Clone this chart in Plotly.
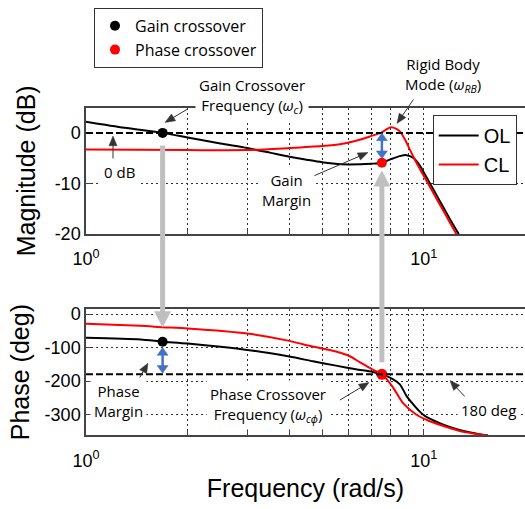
import numpy as np
import plotly.graph_objects as go

# ---- Bode data (frequency in rad/s) ----
freq_mag_ol = [1.0, 1.3, 1.686, 2.0, 2.5, 3.0, 3.5, 4.0, 4.5, 5.0, 5.7, 6.5, 7.0, 7.52,
               8.0, 8.5, 8.9, 9.3, 9.73, 10.0, 10.5, 11.0, 11.5, 12.0, 12.7]
mag_ol = [2.2, 1.0, 0.0, -0.9, -2.1, -3.0, -3.9, -4.7, -5.3, -5.8, -6.2, -6.2, -6.1, -5.9,
          -5.2, -4.6, -4.4, -4.9, -6.4, -7.8, -10.3, -12.7, -15.0, -17.2, -20.0]

freq_mag_cl = [1.0, 2.0, 3.0, 4.0, 5.0, 5.7, 6.5, 7.0, 7.52, 7.8, 8.0, 8.3, 8.5, 8.8,
               9.1, 9.4, 9.7, 10.0, 10.5, 11.0, 11.5, 12.0, 12.5]
mag_cl = [-3.3, -3.4, -3.4, -3.0, -2.6, -2.2, -1.3, -0.6, 0.1, 0.8, 1.1, 0.8, 0.3, -1.3,
          -3.3, -5.2, -6.9, -8.5, -11.0, -13.4, -15.7, -17.9, -20.0]

freq_ph_ol = [1.0, 1.45, 1.686, 2.0, 3.0, 4.0, 4.7, 5.5, 6.3, 7.07, 7.52, 8.1, 8.5, 8.9,
              9.26, 9.7, 10.1, 11.1, 12.0, 13.1, 14.5, 15.5]
phase_ol = [-71, -76, -82.5, -88, -107, -127, -141, -154, -165, -173, -180, -194, -210, -245,
            -267, -290, -305, -325, -338, -349, -358, -363]

freq_ph_cl = [1.0, 1.45, 1.686, 2.0, 3.0, 4.0, 4.5, 5.5, 6.04, 6.5, 7.0, 7.52, 8.1, 8.7,
              9.5, 10.3, 11.1, 12.0, 13.1, 14.3, 15.5]
phase_cl = [-29, -35, -39, -43, -58, -80, -93, -112, -126, -145, -164, -180, -218, -267,
            -300, -318, -330, -341, -352, -358, -362]

# crossover points
w_gain_cross = 1.686       # |L| = 0 dB
w_phase_cross = 7.52       # phase = -180 deg
mag_at_phase_cross = -5.9
phase_at_gain_cross = -82.5
phase_cl_at_gain_cross = -39

x_major = [1, 10]
x_major_text = ["10<sup>0</sup>", "10<sup>1</sup>"]
x_minor = [2, 3, 4, 5, 6, 7, 8, 9, 20]
mag_tickvals = [0, -10, -20]
mag_ticktext = ["0", "-10", "-20"]
ph_tickvals = [0, -100, -200, -300]
ph_ticktext = ["0", "-100", "-200", "-300"]

# ---- page geometry (pixels) ----
W, H = 525, 509
L = 86
X_LOG_RANGE = (0, 1.3)
MAG_RANGE = (-20, 5)
PH_RANGE = (-362, 15)
MAG_TOP, MAG_BOT = 105.7, 236.0
PH_TOP, PH_BOT = 313.3, 443.3


def pxx(x):
    return (x - L) / (W - L)


def pyy(y):
    return 1 - y / H


def fx(f):
    """frequency -> page x pixel"""
    return L + (W - L) * (np.log10(f) - X_LOG_RANGE[0]) / (X_LOG_RANGE[1] - X_LOG_RANGE[0])


def fy_mag(v):
    return MAG_TOP + (MAG_RANGE[1] - v) / (MAG_RANGE[1] - MAG_RANGE[0]) * (MAG_BOT - MAG_TOP)


def fy_ph(v):
    return PH_TOP + (PH_RANGE[1] - v) / (PH_RANGE[1] - PH_RANGE[0]) * (PH_BOT - PH_TOP)


AX_FONT = "Liberation Sans, Arial, sans-serif"
TXT_FONT = "Open Sans, Noto Sans, sans-serif"

fig = go.Figure()

line_kw = dict(shape="spline", smoothing=0.7, width=2)
fig.add_trace(go.Scatter(x=freq_mag_ol, y=mag_ol, mode="lines", name="OL",
                         line=dict(color="black", **line_kw), xaxis="x", yaxis="y",
                         legendgroup="ol"))
fig.add_trace(go.Scatter(x=freq_mag_cl, y=mag_cl, mode="lines", name="CL",
                         line=dict(color="red", **line_kw), xaxis="x", yaxis="y",
                         legendgroup="cl"))
fig.add_trace(go.Scatter(x=freq_ph_ol, y=phase_ol, mode="lines", name="OL", showlegend=False,
                         line=dict(color="black", **line_kw), xaxis="x2", yaxis="y2",
                         legendgroup="ol"))
fig.add_trace(go.Scatter(x=freq_ph_cl, y=phase_cl, mode="lines", name="CL", showlegend=False,
                         line=dict(color="red", **line_kw), xaxis="x2", yaxis="y2",
                         legendgroup="cl"))

# crossover markers
fig.add_trace(go.Scatter(x=[w_gain_cross], y=[0], mode="markers", name="Gain crossover",
                         marker=dict(color="black", size=10), xaxis="x", yaxis="y",
                         legend="legend2", legendgroup="gc"))
fig.add_trace(go.Scatter(x=[w_phase_cross], y=[mag_at_phase_cross], mode="markers",
                         name="Phase crossover", marker=dict(color="red", size=10),
                         xaxis="x", yaxis="y", legend="legend2", legendgroup="pc"))
fig.add_trace(go.Scatter(x=[w_gain_cross], y=[phase_at_gain_cross], mode="markers",
                         showlegend=False, marker=dict(color="black", size=10),
                         xaxis="x2", yaxis="y2", legendgroup="gc"))
fig.add_trace(go.Scatter(x=[w_phase_cross], y=[-180], mode="markers", showlegend=False,
                         marker=dict(color="red", size=11), xaxis="x2", yaxis="y2",
                         legendgroup="pc"))

GRID_DASH = "2px,3px"
grid_kw = dict(showgrid=True, gridcolor="#333333", gridwidth=1, griddash=GRID_DASH,
               showline=True, linecolor="#444444", linewidth=1.5, zeroline=False,
               ticks="inside", ticklen=5, tickcolor="#444444", tickangle=0,
               tickfont=dict(family=AX_FONT, size=18, color="black"))

xax = dict(type="log", range=list(X_LOG_RANGE), domain=[0, 1], tickmode="array",
           tickvals=x_major, ticktext=x_major_text, mirror=True, ticklabelstandoff=8,
           minor=dict(tickmode="array", tickvals=x_minor, ticks="inside", ticklen=4,
                      tickcolor="#444444", showgrid=True, gridcolor="#333333",
                      gridwidth=1, griddash=GRID_DASH),
           **grid_kw)

fig.update_layout(
    width=W, height=H,
    margin=dict(l=L, r=0, t=0, b=0),
    paper_bgcolor="white", plot_bgcolor="white",
    xaxis=dict(anchor="y", **xax),
    xaxis2=dict(anchor="y2", matches="x",
                title=dict(text="Frequency (rad/s)", font=dict(family=AX_FONT, size=25,
                                                              color="black"), standoff=10),
                **xax),
    yaxis=dict(domain=[pyy(MAG_BOT), pyy(MAG_TOP)], range=list(MAG_RANGE),
               tickvals=mag_tickvals, ticktext=mag_ticktext, mirror=False,
               title=dict(text="Magnitude (dB)", font=dict(family=AX_FONT, size=25,
                                                           color="black"), standoff=12),
               **grid_kw),
    yaxis2=dict(domain=[pyy(PH_BOT), pyy(PH_TOP)], range=list(PH_RANGE),
                tickvals=ph_tickvals, ticktext=ph_ticktext, mirror=False,
                title=dict(text="Phase (deg)", font=dict(family=AX_FONT, size=25,
                                                         color="black"), standoff=8),
                **grid_kw),
    legend=dict(x=pxx(432.7), y=pyy(113.3), xanchor="left", yanchor="top",
                bgcolor="white", bordercolor="#333333", borderwidth=1,
                font=dict(family=AX_FONT, size=20, color="black"), itemwidth=40,
                tracegroupgap=0),
    legend2=dict(x=pxx(94), y=pyy(3), xanchor="left", yanchor="top",
                 bgcolor="white", bordercolor="#333333", borderwidth=1,
                 font=dict(family=TXT_FONT, size=16, color="black"), itemwidth=30,
                 tracegroupgap=0),
    showlegend=True,
)

# reference lines: 0 dB and -180 deg
for xref, yref, yv in (("x domain", "y", 0), ("x2 domain", "y2", -180)):
    fig.add_shape(type="line", xref=xref, x0=0, x1=1, yref=yref, y0=yv, y1=yv,
                  layer="above", line=dict(color="black", width=2, dash="7px,3px"))


def arrow(tip, tail, color, width, head_len, head_w, both=False):
    """Straight arrow drawn with shapes; tip/tail given in page pixels."""
    tip = np.asarray(tip, float)
    tail = np.asarray(tail, float)
    u = (tip - tail) / np.linalg.norm(tip - tail)
    n = np.array([-u[1], u[0]])

    def head(t, d):
        b = t - d * head_len
        p1 = b + n * head_w / 2
        p2 = b - n * head_w / 2
        pts = [t, p1, p2]
        path = "M" + " L".join(f"{pxx(p[0]):.5f},{pyy(p[1]):.5f}" for p in pts) + " Z"
        fig.add_shape(type="path", path=path, xref="paper", yref="paper", layer="above",
                      fillcolor=color, line=dict(color=color, width=0.5))

    start = tail + u * (head_len * 0.8) if both else tail
    end = tip - u * (head_len * 0.8)
    fig.add_shape(type="line", xref="paper", yref="paper", layer="above",
                  x0=pxx(start[0]), y0=pyy(start[1]), x1=pxx(end[0]), y1=pyy(end[1]),
                  line=dict(color=color, width=width))
    head(tip, u)
    if both:
        head(tail, -u)


GRAY = "#bfbfbf"
BLUE = "#4472c4"
INK = "#333333"

# gray arrows linking the two plots
arrow((fx(w_gain_cross), fy_ph(phase_cl_at_gain_cross)),
      (fx(w_gain_cross), fy_mag(-2.5)), GRAY, 5, 16, 16)
arrow((fx(w_phase_cross), fy_mag(-7.5)),
      (fx(w_phase_cross), fy_ph(-144)), GRAY, 5, 16, 16)

# gain and phase margin indicators
arrow((fx(w_phase_cross), fy_mag(0)), (fx(w_phase_cross), fy_mag(-5.1)),
      BLUE, 2.5, 8, 11, both=True)
arrow((fx(w_gain_cross), fy_ph(-100)), (fx(w_gain_cross), fy_ph(-177)),
      BLUE, 2.5, 8, 11, both=True)

# callout pointers (tip, tail) in page pixels
pointers = [((165, 121), (188, 107)),
            ((113, 135), (113, 160)),
            ((368, 152), (305, 180)),
            ((397, 122), (415, 95)),
            ((148, 369), (138, 387)),
            ((369, 389), (340, 407)),
            ((450, 387), (468, 407))]
for tip, tail in pointers:
    arrow(tip, tail, INK, 1, 10, 8)

# callout labels (centre positions in page pixels)
labels = [
    ("Gain Crossover<br>Frequency (<i>ω</i><sub><i>c</i></sub>)", 252, 94),
    ("0 dB", 119, 172),
    ("Gain<br>Margin", 286, 191),
    ("Rigid Body<br>Mode (<i>ω</i><sub><i>RB</i></sub>)", 443, 72),
    ("Phase<br>Margin", 118, 408),
    ("Phase Crossover<br>Frequency (<i>ω</i><sub><i>cϕ</i></sub>)", 268, 412),
    ("180 deg", 488, 417),
]
for txt, cx, cy in labels:
    fig.add_annotation(x=pxx(cx), y=pyy(cy), xref="paper", yref="paper", text=txt,
                       showarrow=False, xanchor="center", yanchor="middle",
                       bgcolor="white", borderpad=3,
                       font=dict(family=TXT_FONT, size=15, color="black"))

fig.write_html("out.html")
